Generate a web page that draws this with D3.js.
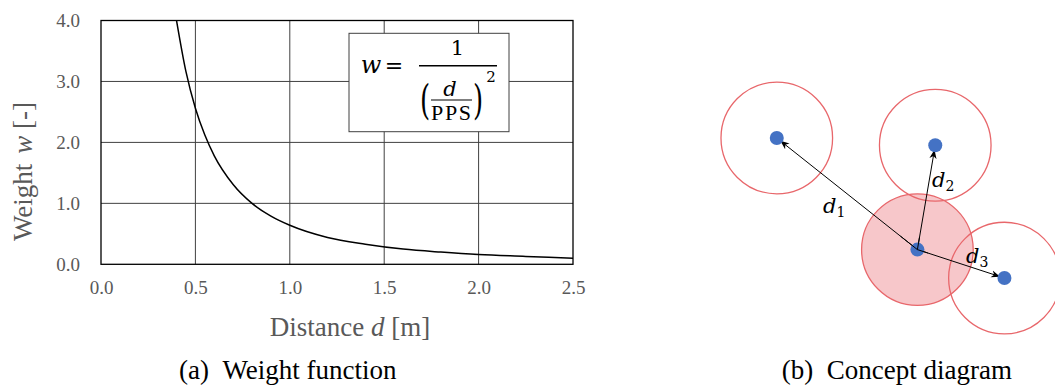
<!DOCTYPE html>
<html>
<head>
<meta charset="utf-8">
<script src="https://cdn.jsdelivr.net/npm/d3@7"></script>
<style>
  html, body { margin: 0; padding: 0; background: #fff; }
  svg { display: block; }
</style>
</head>
<body>
<svg id="chart" width="1055" height="388"></svg>
<script>
// ---------- data ----------
const distances = [0.40, 0.45, 0.50, 0.55, 0.60, 0.70, 0.80, 0.90, 1.00, 1.20, 1.40, 1.60, 1.80, 2.00, 2.25, 2.50];
const weights   = [4.00, 3.16, 2.56, 2.12, 1.78, 1.31, 1.00, 0.79, 0.64, 0.44, 0.33, 0.25, 0.20, 0.16, 0.13, 0.10];
const xTicks = [0.0, 0.5, 1.0, 1.5, 2.0, 2.5];
const yTicks = [0.0, 1.0, 2.0, 3.0, 4.0];

// concept diagram (units of PPS radius, y up)
const nodeNames = ["p0", "p1", "p2", "p3"];
const nodeX = [0.00, -2.52, 0.32, 1.56];
const nodeY = [0.00, 2.00, 1.87, -0.51];
const influenceRadius = 1.0;
const distLabels = ["1", "2", "3"];

// ---------- chart (a) ----------
const svg = d3.select("#chart");
const greyText = "#595959";
const serif = "'Liberation Serif', 'Times New Roman', serif";
const mathFont = "'DejaVu Serif', 'Liberation Serif', serif";

const L = 101, R = 573, T = 20.5, B = 264.3;
const x = d3.scaleLinear().domain([0, 2.5]).range([L, R]);
const y = d3.scaleLinear().domain([0, 4]).range([B, T]);

const g = svg.append("g");

// grid
g.selectAll("line.vg").data(xTicks.slice(1, -1)).enter().append("line")
  .attr("x1", d => x(d)).attr("x2", d => x(d)).attr("y1", T).attr("y2", B)
  .attr("stroke", "#404040").attr("stroke-width", 1);
g.selectAll("line.hg").data(yTicks.slice(1, -1)).enter().append("line")
  .attr("x1", L).attr("x2", R).attr("y1", d => y(d)).attr("y2", d => y(d))
  .attr("stroke", "#404040").attr("stroke-width", 1);

// clip
svg.append("clipPath").attr("id", "plotclip").append("rect")
  .attr("x", L).attr("y", T).attr("width", R - L).attr("height", B - T);

// curve
const pts = distances.map((d, i) => [d, weights[i]]);
g.append("path").datum(pts)
  .attr("clip-path", "url(#plotclip)")
  .attr("fill", "none").attr("stroke", "#000").attr("stroke-width", 1.5)
  .attr("d", d3.line().x(d => x(d[0])).y(d => y(d[1])).curve(d3.curveMonotoneX));

// frame
g.append("rect").attr("x", L).attr("y", T).attr("width", R - L).attr("height", B - T)
  .attr("fill", "none").attr("stroke", "#000").attr("stroke-width", 1.3);

// axes
const xAxis = g.append("g").attr("transform", `translate(0,${B})`)
  .call(d3.axisBottom(x).tickValues(xTicks).tickFormat(d3.format(".1f")).tickSize(0).tickPadding(16));
const yAxis = g.append("g").attr("transform", `translate(${L},0)`)
  .call(d3.axisLeft(y).tickValues(yTicks).tickFormat(d3.format(".1f")).tickSize(0).tickPadding(21));
[xAxis, yAxis].forEach(a => {
  a.select(".domain").remove();
  a.selectAll("text").attr("font-family", serif).attr("font-size", 19).attr("fill", greyText);
});

// axis titles
const yt = g.append("text")
  .attr("transform", "translate(32,171.5) rotate(-90)")
  .attr("text-anchor", "middle")
  .attr("font-family", serif).attr("font-size", 27).attr("fill", greyText);
yt.append("tspan").text("Weight");
yt.append("tspan").attr("dx", 10).attr("font-style", "italic").text("w");
yt.append("tspan").text(" [-]");

const xt = g.append("text")
  .attr("x", 350).attr("y", 336)
  .attr("text-anchor", "middle")
  .attr("font-family", serif).attr("font-size", 27).attr("fill", greyText);
xt.append("tspan").text("Distance ");
xt.append("tspan").attr("font-style", "italic").text("d");
xt.append("tspan").text(" [m]");

// formula box
const fb = g.append("g");
fb.append("rect").attr("x", 349).attr("y", 33.3).attr("width", 160).attr("height", 98.4)
  .attr("fill", "#fff").attr("stroke", "#404040").attr("stroke-width", 1);
const ft = (txt, xx, yy, size, opts = {}) => fb.append("text")
  .attr("x", xx).attr("y", yy).attr("text-anchor", "middle")
  .attr("font-family", mathFont).attr("font-size", size)
  .attr("font-style", opts.italic ? "italic" : "normal")
  .attr("fill", "#000").text(txt);
ft("w", 371, 73, 24, { italic: true });
ft("=", 394, 73, 22);
fb.append("line").attr("x1", 419).attr("x2", 497).attr("y1", 65.7).attr("y2", 65.7)
  .attr("stroke", "#000").attr("stroke-width", 1.4);
ft("1", 457.5, 55, 21);
fb.append("text").attr("transform", "translate(425,114) scale(1,1.55)")
  .attr("text-anchor", "middle").attr("font-family", mathFont).attr("font-size", 26).text("(");
fb.append("text").attr("transform", "translate(478,114) scale(1,1.55)")
  .attr("text-anchor", "middle").attr("font-family", mathFont).attr("font-size", 26).text(")");
ft("d", 450, 96, 21, { italic: true });
fb.append("line").attr("x1", 431).attr("x2", 472).attr("y1", 100).attr("y2", 100)
  .attr("stroke", "#000").attr("stroke-width", 1.2);
fb.append("text").attr("x", 451).attr("y", 120).attr("text-anchor", "middle")
  .attr("font-family", serif).attr("font-size", 22).attr("textLength", 40).text("PPS");
ft("2", 491, 82, 15);

// caption (a)
g.append("text").attr("x", 179).attr("y", 379)
  .attr("font-family", serif).attr("font-size", 27).attr("fill", "#000")
  .text("(a)\u2002Weight function");

// ---------- diagram (b) ----------
const cx = 917.4, cy = 249.6, unit = 55.8;
const sx = d3.scaleLinear().domain([0, 1]).range([cx, cx + unit]);
const sy = d3.scaleLinear().domain([0, 1]).range([cy, cy - unit]);
const nodes = nodeNames.map((n, i) => ({ name: n, x: nodeX[i], y: nodeY[i] }));

const dg = svg.append("g");
svg.append("defs").append("marker")
  .attr("id", "arrow").attr("viewBox", "0 0 10 10").attr("refX", 10).attr("refY", 5)
  .attr("markerWidth", 9).attr("markerHeight", 9).attr("markerUnits", "userSpaceOnUse")
  .attr("orient", "auto")
  .append("path").attr("d", "M0,1 L10,5 L0,9 L3,5 Z").attr("fill", "#000");

// circles
dg.selectAll("circle.inf").data(nodes).enter().append("circle")
  .attr("cx", d => sx(d.x)).attr("cy", d => sy(d.y))
  .attr("r", d => sx(influenceRadius) - sx(0))
  .attr("fill", (d, i) => i === 0 ? "#f7c7ca" : "none")
  .attr("stroke", "#e8676b").attr("stroke-width", 1.3);

// arrows
const others = nodes.slice(1);
dg.selectAll("line.arr").data(others).enter().append("line")
  .each(function (d) {
    const x0 = sx(0), y0 = sy(0), x1 = sx(d.x), y1 = sy(d.y);
    const len = Math.hypot(x1 - x0, y1 - y0);
    const k = (len - 4.5) / len;
    d3.select(this).attr("x1", x0).attr("y1", y0)
      .attr("x2", x0 + (x1 - x0) * k).attr("y2", y0 + (y1 - y0) * k);
  })
  .attr("stroke", "#000").attr("stroke-width", 1).attr("marker-end", "url(#arrow)");

// dots
dg.selectAll("circle.dot").data(nodes).enter().append("circle")
  .attr("cx", d => sx(d.x)).attr("cy", d => sy(d.y)).attr("r", 7)
  .attr("fill", "#4472c4");
// re-draw arrows over dots start
dg.selectAll("line.arr2").data(others).enter().append("line")
  .attr("x1", sx(0)).attr("y1", sy(0))
  .attr("x2", d => sx(0) + (sx(d.x) - sx(0)) * 0.12)
  .attr("y2", d => sy(0) + (sy(d.y) - sy(0)) * 0.12)
  .attr("stroke", "#000").attr("stroke-width", 1);

// distance labels
const labelPos = [[823, 213], [932, 187], [966, 263]];
distLabels.forEach((s, i) => {
  const t = dg.append("text").attr("x", labelPos[i][0]).attr("y", labelPos[i][1])
    .attr("font-family", mathFont).attr("font-size", 21).attr("fill", "#000");
  t.append("tspan").attr("font-style", "italic").text("d");
  t.append("tspan").attr("font-size", 14).attr("dy", 4).text(s);
});

// caption (b)
dg.append("text").attr("x", 1012).attr("y", 379).attr("text-anchor", "end")
  .attr("font-family", serif).attr("font-size", 27).attr("fill", "#000")
  .text("(b)\u2002Concept diagram");
</script>
</body>
</html>
